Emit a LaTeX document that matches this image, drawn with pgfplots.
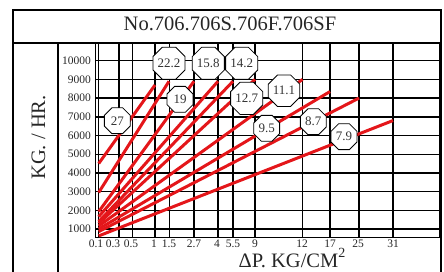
\documentclass[border=0pt]{standalone}
\usepackage{pgfplots}
\pgfplotsset{compat=1.18}
\usepackage{fontspec}
\setmainfont{Liberation Serif}
\usetikzlibrary{shapes.geometric}
\definecolor{lred}{RGB}{228,22,26}
\begin{document}
\begin{tikzpicture}[x=1pt,y=1pt]
\useasboundingbox (0,0) rectangle (444,-271);
\begin{axis}[
  at={(95.5pt,-237.5pt)}, anchor=south west,
  width=344.5pt, height=194.5pt, scale only axis,
  xmin=95.5, xmax=440, ymin=545, ymax=10947,
  xtick={98.7,119,132.5,155,169.5,194,218,233,255,302.5,330,359,393},
  xticklabels={},
  extra x ticks={96,113,131,154,169,194,217,233,255,302,330,358,393},
  extra x tick labels={0.1,0.3,0.5,1,1.5,2.7,4,5.5,9,12,17,25,31},
  extra x tick style={grid=none},
  ytick={1000,2000,...,10000},
  scaled y ticks=false,
  grid=major,
  major grid style={black, line width=1.4pt},
  axis line style={black, line width=1.4pt},
  tick style={draw=none},
  /pgf/number format/assume math mode=true,
  /pgf/number format/set thousands separator={},
  ticklabel style={font=\fontsize{11.5}{12}\selectfont, text=black!85},
  xticklabel style={yshift=1pt},
  yticklabel style={xshift=-1pt},
  clip=false,
]
\addplot[lred, line width=3pt] coordinates {(98.7,4500) (155,8700)};
\addplot[lred, line width=3pt] coordinates {(98.7,2950) (169,8900)};
\addplot[lred, line width=3pt] coordinates {(98.7,1930) (194,8900)};
\addplot[lred, line width=3pt] coordinates {(98.7,1660) (218,8900)};
\addplot[lred, line width=3pt] coordinates {(98.7,1400) (233,8900)};
\addplot[lred, line width=3pt] coordinates {(98.7,1300) (255,9000)};
\addplot[lred, line width=3pt] coordinates {(98.7,1160) (302.5,9000)};
\addplot[lred, line width=3pt] coordinates {(98.7,1000) (330,8350)};
\addplot[lred, line width=3pt] coordinates {(98.7,860) (359,8000)};
\addplot[lred, line width=3pt] coordinates {(98.7,630) (393,6800)};
\addplot[draw=none, mark=none, nodes near coords, point meta=explicit symbolic,
  every node near coord/.style={regular polygon, regular polygon sides=8, draw=black,
  fill=white, line width=0.8pt, minimum size=28pt, inner sep=0pt, anchor=center,
  font=\fontsize{13}{13}\selectfont, text=black!80}]
  table[meta=label] {
x y label
117.3 6791 27
169 9861 22.2
208.3 9861 15.8
241.7 9861 14.2
180 7936 19
246.7 7989 12.7
284 8396 11.1
266.7 6385 9.5
313.3 6738 8.7
344 5936 7.9
};
\end{axis}
\draw[line width=2.6pt] (13,-275) -- (13,-10) -- (441,-10) -- (441,-275);
\draw[line width=2pt] (13,-43) -- (441,-43);
\draw[line width=1.5pt] (58,-43) -- (58,-275);
\node[anchor=base, font=\fontsize{20.5}{22}\selectfont, text=black!85] at (230,-30.7) {No.706.706S.706F.706SF};
\node[anchor=base, rotate=90, font=\fontsize{20.5}{22}\selectfont, text=black!85] at (45,-137.5) {KG. / HR.};
\node[anchor=base, font=\fontsize{20.5}{22}\selectfont, text=black!85] at (292,-267) {ΔP. KG/CM\raisebox{0.45em}{\fontsize{14}{14}\selectfont 2}};
\end{tikzpicture}
\end{document}
